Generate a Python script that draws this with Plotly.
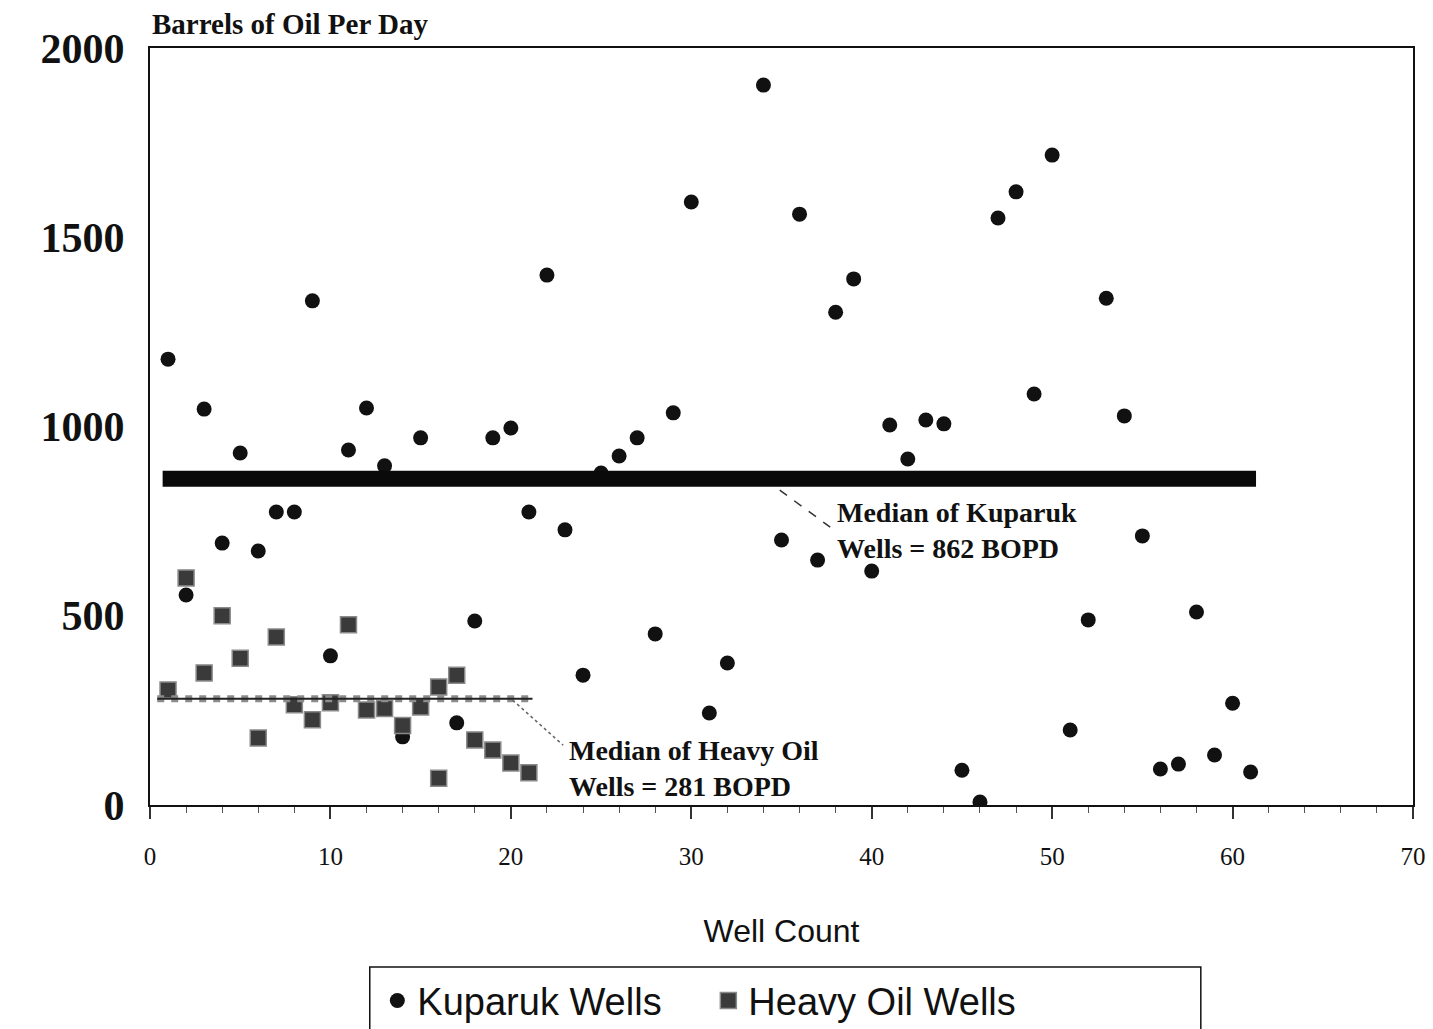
import plotly.graph_objects as go

# Kuparuk wells: well count vs. barrels of oil per day
kup_x = [1, 2, 3, 4, 5, 6, 7, 8, 9, 10, 11, 12, 13, 14, 15,
         17, 18, 19, 20, 21, 22, 23, 24, 25, 26, 27, 28, 29, 30, 31, 32,
         34, 35, 36, 37, 38, 39, 40, 41, 42, 43, 44, 45, 46, 47, 48, 49, 50,
         51, 52, 53, 54, 55, 56, 57, 58, 59, 60, 61]
kup_y = [1178, 555, 1046, 692, 930, 671, 774, 774, 1332, 394, 938, 1049, 896, 180, 970,
         217, 486, 970, 996, 774, 1400, 727, 343, 877, 922, 970, 452, 1036, 1593, 243, 375,
         1902, 700, 1561, 647, 1302, 1390, 618, 1004, 914, 1017, 1007, 92, 8, 1551, 1620, 1086, 1717,
         198, 489, 1339, 1028, 711, 95, 108, 510, 132, 269, 87]

# Heavy oil wells
heavy_x = [1, 2, 3, 4, 5, 6, 7, 8, 9, 10, 11, 12, 13, 14, 15, 16, 16, 17, 18, 19, 20, 21]
heavy_y = [304, 600, 349, 500, 388, 177, 444, 265, 225, 270, 476, 251, 255, 210, 259,
           312, 71, 343, 172, 145, 111, 85]

# Medians (BOPD) and the well-count span each median line covers
kup_median = 862
heavy_median = 281
kup_median_span = [0.7, 61.3]
heavy_median_span = [0.4, 21.2]

x_ticks = [0, 10, 20, 30, 40, 50, 60, 70]
y_ticks = [0, 500, 1000, 1500, 2000]

SERIF = "Liberation Serif, Times New Roman, serif"
SANS = "Liberation Sans, Arial, sans-serif"

fig = go.Figure()

fig.add_trace(go.Scatter(
    x=kup_x, y=kup_y, mode="markers", name="Kuparuk Wells",
    marker=dict(symbol="circle", size=15, color="#111111"),
))
fig.add_trace(go.Scatter(
    x=heavy_x, y=heavy_y, mode="markers", name="Heavy Oil Wells",
    marker=dict(symbol="square", size=16, color="#3a3a3a",
                line=dict(color="#8a8a8a", width=1.5)),
))

# Median lines
fig.add_trace(go.Scatter(
    x=kup_median_span, y=[kup_median] * 2, mode="lines", showlegend=False,
    line=dict(color="#0a0a0a", width=16), hoverinfo="skip",
))
fig.add_trace(go.Scatter(
    x=heavy_median_span, y=[heavy_median] * 2, mode="lines", showlegend=False,
    line=dict(color="#8c8c8c", width=7, dash="dot"), hoverinfo="skip",
))
fig.add_trace(go.Scatter(
    x=heavy_median_span, y=[heavy_median] * 2, mode="lines", showlegend=False,
    line=dict(color="#222222", width=2), hoverinfo="skip",
))

# Median labels
label_font = dict(family=SERIF, size=28, color="#111111")
fig.add_annotation(
    x=37.95, y=818, xref="x", yref="y", xanchor="left", yanchor="top",
    text="<b>Median of Kuparuk<br>Wells = 862 BOPD</b>", showarrow=False,
    align="left", font=label_font,
)
fig.add_annotation(
    x=23.1, y=190, xref="x", yref="y", xanchor="left", yanchor="top",
    text="<b>Median of Heavy Oil<br>Wells = 281 BOPD</b>", showarrow=False,
    align="left", font=label_font,
)
# Leader lines from the labels to the median lines
fig.add_shape(type="line", xref="x", yref="y", x0=34.9, y0=832, x1=37.7, y1=734,
              line=dict(color="#333333", width=1.5, dash="dash"))
fig.add_shape(type="line", xref="x", yref="y", x0=20.1, y0=277, x1=22.9, y1=158,
              line=dict(color="#666666", width=1.5, dash="dot"))

# Y-axis title above the plot
fig.add_annotation(
    x=0, y=1, xref="paper", yref="paper", xanchor="left", yanchor="bottom", yshift=6,
    text="<b>Barrels of Oil Per Day</b>", showarrow=False,
    font=dict(family=SERIF, size=29, color="#111111"),
)

# Legend frame
fig.add_shape(
    type="rect", xref="paper", yref="paper",
    x0=0.174, x1=0.832, y0=-0.214, y1=-0.40,
    line=dict(color="#111111", width=1.5), fillcolor="rgba(0,0,0,0)",
)

fig.update_layout(
    width=1433, height=1029,
    margin=dict(l=150, r=20, t=48, b=224, autoexpand=False),
    paper_bgcolor="white", plot_bgcolor="white",
    showlegend=True,
    legend=dict(
        orientation="h", x=0.180, y=-0.217, xanchor="left", yanchor="top",
        font=dict(family=SANS, size=38, color="#111111"),
        entrywidth=286, bgcolor="rgba(0,0,0,0)", borderwidth=0,
        traceorder="normal",
    ),
    xaxis=dict(
        range=[0, 70], tickvals=x_ticks, ticktext=[str(v) for v in x_ticks],
        showgrid=False, zeroline=False,
        showline=True, linecolor="#111111", linewidth=2, mirror=True,
        ticks="outside", ticklen=12, tickwidth=1.5, tickcolor="#333333",
        minor=dict(dtick=2, ticks="outside", ticklen=6, tickwidth=1, tickcolor="#555555"),
        tickfont=dict(family=SERIF, size=25, color="#111111"),
        ticklabelstandoff=16,
        title=dict(text="Well Count", font=dict(family=SANS, size=32, color="#111111"),
                   standoff=51),
    ),
    yaxis=dict(
        range=[0, 2000], tickvals=y_ticks, ticktext=[f"<b>{v}</b>" for v in y_ticks],
        showgrid=False, zeroline=False,
        showline=True, linecolor="#111111", linewidth=2, mirror=True,
        ticks="",
        tickfont=dict(family=SERIF, size=42, color="#111111"),
        ticklabelstandoff=15,
    ),
)

fig.write_html("out.html")
